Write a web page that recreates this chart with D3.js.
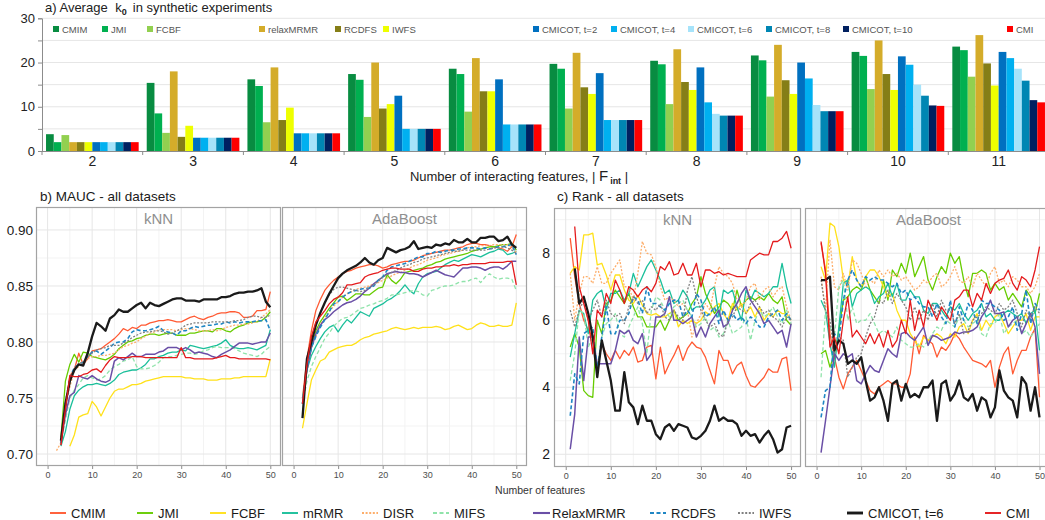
<!DOCTYPE html>
<html>
<head>
<meta charset="utf-8">
<script src="https://cdn.jsdelivr.net/npm/d3@7/dist/d3.min.js"></script>
<style>
  body { margin: 0; background: #fff; }
  svg text { font-family: "Liberation Sans", Arial, sans-serif; }
</style>
</head>
<body>
<svg id="chart" width="1045" height="520"></svg>
<script>
// ---------- a) bar chart data ----------
const interactCounts = ["2","3","4","5","6","7","8","9","10","11"];
const barNames = ["CMIM","JMI","FCBF","relaxMRMR","RCDFS","IWFS","CMICOT, t=2","CMICOT, t=4","CMICOT, t=6","CMICOT, t=8","CMICOT, t=10","CMI"];
const barCMIM   = [3.8,15.4,16.2,17.4,18.6,19.7,20.4,21.6,22.4,23.6];
const barJMI    = [2,8.5,14.7,16.1,17.4,18.6,19.6,20.5,21.5,22.8];
const barFCBF   = [3.6,4.1,6.5,7.7,8.9,9.6,10.6,12.3,14,16.8];
const barRelax  = [2,18,18.9,20,21,22.2,23,24,25,26.2];
const barRCDFS  = [2,3.2,7,9.6,13.5,14.4,15.6,16,17.4,19.8];
const barIWFS   = [2,5.7,9.8,10.6,13.5,12.9,13.8,12.9,13.8,14.8];
const barCot2   = [2,3,4,12.5,16.2,17.6,18.9,20,21.4,22.4];
const barCot4   = [2,3,4,5,6,7,11,16.4,19.5,21];
const barCot6   = [2,3,4,5,6,7,8.4,10.4,15,18.6];
const barCot8   = [2,3,4,5,6,7,8,9,12.5,15.9];
const barCot10  = [2,3,4,5,6,7,8,9,10.3,11.5];
const barCMI    = [2,3,4,5,6,7,8,9,10.2,11];
const barTicks  = [0,10,20,30];

// ---------- b), c) line chart data (index 0 = 1 feature ... index 49 = 50 features) ----------
const methods = ["CMIM","JMI","FCBF","mRMR","DISR","MIFS","RelaxMRMR","RCDFS","IWFS","CMICOT, t=6","CMI"];
const aucTicks = [0.70,0.75,0.80,0.85,0.90];
const rankTicks = [2,4,6,8];
const featTicks = [0,10,20,30,40,50];

const aucKnn = [
  // CMIM
  [null,null,.710,.740,.770,.775,.790,.780,.785,.792, .793,.794,.797,.800,.803,.807,.812,.810,.813,.812,
   .815,.815,.817,.818,.819,.819,.820,.819,.818,.818, .820,.822,.823,.821,.820,.822,.823,.825,.826,.826,
   .827,.827,.826,.822,.822,.823,.828,.828,.829,.845],
  // JMI
  [null,null,.715,.765,.780,.789,.782,.791,.790,.787, .786,.785,.784,.786,.789,.794,.797,.800,.801,.803,
   .804,.806,.807,.807,.806,.807,.808,.808,.806,.806, .806,.808,.808,.809,.810,.810,.809,.812,.812,.810,
   .809,.812,.814,.815,.817,.818,.818,.819,.822,.827],
  // FCBF
  [null,null,null,null,.707,.717,.733,.735,.736,.747, .742,.734,.742,.750,.756,.758,.758,.760,.762,.762,
   .763,.765,.766,.767,.768,.769,.769,.769,.769,.769, .768,.768,.767,.767,.767,.766,.766,.766,.767,.767,
   .767,.768,.768,.769,.769,.769,.769,.769,.769,.785],
  // mRMR
  [null,null,.707,.720,.740,.752,.757,.760,.762,.762, .763,.762,.761,.763,.766,.771,.773,.774,.775,.775,
   .777,.780,.785,.785,.787,.788,.790,.791,.791,.793, .792,.797,.796,.795,.794,.795,.796,.797,.799,.802,
   .797,.795,.794,.794,.795,.794,.793,.795,.797,.811],
  // DISR
  [null,.703,.710,.745,.760,.775,.778,.782,.785,.787, .787,.788,.788,.789,.790,.793,.796,.797,.799,.800,
   .803,.805,.808,.809,.811,.811,.811,.811,.810,.811, .812,.812,.811,.810,.810,.810,.811,.810,.811,.813,
   .814,.815,.815,.816,.816,.817,.818,.822,.825,.829],
  // MIFS
  [null,null,.710,.730,.750,.757,.762,.768,.770,.768, .766,.767,.770,.775,.778,.780,.783,.784,.787,.778,
   .776,.776,.777,.779,.782,.786,.787,.787,.788,.789, .790,.790,.789,.790,.792,.793,.795,.796,.795,.795,
   .795,.794,.792,.790,.789,.788,.787,.789,.793,.796],
  // RelaxMRMR
  [null,null,.710,.735,.752,.755,.770,.768,.767,.770, .767,.765,.764,.766,.783,.786,.784,.787,.790,.787,
   .787,.789,.789,.789,.791,.792,.795,.795,.795,.793, .795,.793,.790,.791,.790,.789,.787,.786,.789,.791,
   .793,.796,.799,.799,.799,.798,.799,.800,.800,.808],
  // RCDFS
  [null,null,.710,.745,.768,.777,.780,.782,.787,.791, .792,.789,.792,.795,.799,.800,.800,.803,.809,.811,
   .810,.810,.811,.812,.814,.810,.809,.808,.806,.810, .810,.812,.814,.813,.814,.815,.815,.816,.816,.818,
   .817,.818,.817,.818,.818,.818,.819,.819,.820,.810],
  // IWFS
  [null,null,.708,.740,.765,.777,.781,.782,.787,.790, .793,.794,.795,.797,.797,.797,.799,.801,.804,.806,
   .808,.809,.809,.810,.810,.809,.807,.808,.810,.812, .815,.816,.817,.817,.817,.817,.818,.818,.818,.818,
   .818,.819,.819,.820,.822,.823,.823,.822,.822,.824],
  // CMICOT, t=6
  [null,null,.712,.745,.765,.775,.780,.779,.790,.805, .817,.814,.810,.821,.824,.829,.827,.827,.830,.833,
   .835,.830,.835,.833,.832,.834,.836,.838,.839,.839, .837,.837,.837,.836,.838,.838,.838,.838,.840,.840,
   .841,.843,.844,.844,.845,.845,.846,.848,.836,.831],
  // CMI
  [null,null,.708,.740,.770,.769,.769,.771,.772,.775, .776,.773,.779,.784,.787,.786,.786,.786,.787,.787,
   .787,.786,.786,.786,.786,.786,.786,.786,.786,.795, .786,.786,.785,.785,.785,.785,.785,.786,.787,.788,
   .786,.786,.785,.785,.785,.785,.785,.785,.785,.784]
];

const aucAda = [
  // CMIM
  [null,.750,.785,.810,.828,.838,.846,.851,.855,.858, .861,.863,.864,.866,.867,.868,.869,.869,.868,.866,
   .867,.869,.870,.871,.872,.872,.873,.875,.877,.878, .879,.880,.881,.882,.882,.883,.884,.885,.887,.888,
   .888,.887,.887,.886,.885,.884,.883,.881,.885,.896],
  // JMI
  [null,.745,.775,.795,.810,.818,.824,.830,.835,.840, .841,.837,.840,.843,.843,.842,.842,.845,.848,.849,
   .860,.855,.852,.856,.862,.863,.864,.865,.866,.868, .869,.871,.872,.874,.875,.876,.877,.878,.879,.881,
   .882,.883,.884,.885,.885,.886,.887,.887,.888,.882],
  // FCBF
  [null,.723,.745,.766,.775,.783,.785,.791,.793,.795, .796,.797,.797,.799,.802,.804,.805,.807,.808,.809,
   .810,.812,.813,.812,.811,.812,.813,.812,.813,.813, .813,.814,.813,.811,.812,.814,.815,.813,.811,.812,
   .815,.817,.816,.814,.814,.815,.814,.814,.815,.835],
  // mRMR
  [null,.750,.775,.788,.796,.803,.809,.813,.815,.809, .815,.820,.817,.822,.827,.825,.823,.830,.832,.834,
   .837,.839,.842,.846,.851,.846,.843,.852,.858,.861, .862,.863,.866,.869,.871,.873,.872,.874,.876,.878,
   .877,.876,.878,.880,.881,.883,.882,.878,.879,.881],
  // DISR
  [null,.745,.775,.795,.805,.815,.822,.827,.832,.836, .840,.843,.845,.847,.848,.849,.850,.852,.853,.855,
   .857,.859,.861,.862,.864,.866,.868,.869,.871,.873, .874,.875,.877,.878,.879,.880,.881,.882,.884,.885,
   .885,.886,.886,.886,.887,.887,.887,.887,.884,.880],
  // MIFS
  [null,.745,.765,.778,.787,.795,.803,.808,.814,.818, .821,.822,.824,.827,.830,.831,.833,.834,.836,.837,
   .839,.842,.842,.843,.844,.845,.846,.845,.842,.841, .846,.847,.849,.850,.850,.851,.853,.854,.854,.856,
   .857,.853,.858,.861,.858,.856,.857,.857,.856,.846],
  // RelaxMRMR
  [null,.745,.775,.795,.807,.815,.820,.823,.827,.830, .833,.835,.836,.838,.841,.845,.848,.852,.855,.858,
   .861,.862,.863,.862,.862,.861,.861,.860,.858,.860, .862,.864,.862,.860,.859,.858,.862,.866,.866,.867,
   .867,.866,.864,.866,.867,.867,.865,.868,.872,.872],
  // RCDFS
  [null,.745,.777,.795,.805,.813,.820,.827,.834,.836, .840,.843,.845,.846,.847,.848,.848,.850,.855,.858,
   .864,.867,.868,.869,.870,.872,.874,.876,.876,.879, .879,.881,.880,.881,.882,.882,.883,.883,.884,.884,
   .884,.883,.884,.883,.884,.885,.885,.886,.887,.878],
  // IWFS
  [null,.745,.780,.800,.815,.826,.835,.842,.847,.849, .849,.848,.847,.846,.845,.846,.849,.851,.854,.858,
   .860,.862,.864,.866,.868,.869,.871,.872,.874,.875, .876,.877,.878,.879,.880,.881,.881,.882,.882,.882,
   .882,.882,.882,.883,.884,.884,.885,.884,.882,.879],
  // CMICOT, t=6
  [null,.732,.785,.800,.815,.826,.835,.843,.850,.857, .861,.864,.866,.868,.871,.875,.871,.869,.873,.875,
   .884,.882,.880,.882,.883,.885,.890,.883,.884,.885, .884,.887,.886,.888,.887,.891,.889,.889,.892,.889,
   .889,.893,.893,.894,.894,.890,.891,.894,.887,.884],
  // CMI
  [null,.745,.780,.805,.818,.823,.828,.834,.838,.840, .844,.851,.851,.852,.853,.858,.860,.861,.862,.864,
   .865,.866,.866,.865,.865,.865,.863,.863,.865,.866, .866,.867,.867,.868,.868,.869,.868,.869,.869,.870,
   .870,.870,.870,.871,.871,.871,.871,.872,.872,.851]
];

const rankKnn = [
  // CMIM
  [8.45,7.3,6.5,6.0,5.7,5.5,4.5,5.3,5.0,4.8, 5.1,4.85,5.1,4.95,5.2,4.75,4.8,5.2,5.25,4.25,
   5.2,4.4,4.7,4.95,5.25,4.8,5.15,5.35,5.2,5.15, 4.9,4.5,4.1,5.1,4.8,4.8,4.4,4.65,4.75,4.35,
   4.05,4.0,4.15,4.3,4.55,4.45,4.45,4.85,4.9,3.9],
  // JMI
  [5.2,5.6,5.2,3.9,3.75,3.7,6.0,5.6,6.5,6.6, 6.9,6.7,6.5,6.8,6.4,6.1,6.1,5.8,5.8,5.8,
   6.0,5.7,6.0,6.3,6.0,6.1,6.2,6.5,6.7,7.3, 6.8,6.5,6.2,6.4,6.6,6.5,6.3,6.9,6.4,6.6,
   6.7,6.6,6.7,6.6,6.8,6.6,6.5,6.7,6.0,5.85],
  // FCBF
  [7.4,7.6,7.5,8.55,8.55,8.6,7.65,7.7,7.35,6.9, 7.35,7.35,6.9,6.6,6.5,6.75,6.45,6.2,6.15,6.2,
   6.1,6.1,6.2,6.3,5.8,6.0,5.9,6.0,5.9,6.0, 6.25,6.15,6.4,6.5,6.2,6.0,6.5,6.3,6.5,6.2,
   6.4,6.1,6.4,6.0,6.2,6.1,6.3,6.2,6.2,6.0],
  // mRMR
  [4.9,5.6,6.3,6.2,5.6,6.6,6.8,6.9,6.3,6.8, 6.8,6.9,6.6,6.8,7.4,7.0,7.3,7.6,7.8,7.5,
   7.2,6.8,6.9,6.5,6.6,6.9,6.7,6.3,6.4,6.4, 6.6,6.9,7.0,6.1,6.9,6.8,6.9,6.4,6.0,6.9,
   6.6,6.9,6.8,6.7,6.8,7.0,7.0,7.7,7.0,6.5],
  // DISR
  [7.4,6.0,6.8,7.3,7.3,7.1,7.6,7.1,7.1,7.4, 7.6,7.8,7.0,7.0,6.6,7.4,8.35,8.0,7.95,7.6,
   7.0,6.6,6.7,6.6,6.4,6.5,6.3,5.5,5.9,6.2, 6.5,6.3,7.0,7.6,7.4,7.3,7.1,6.6,6.4,6.6,
   7.0,7.1,6.6,6.9,7.0,6.7,6.9,7.0,6.4,6.0],
  // MIFS
  [4.2,5.0,6.3,6.2,5.2,5.5,4.5,5.5,5.9,6.0, 6.2,5.6,5.5,5.8,6.1,6.4,5.9,5.0,6.3,6.7,
   6.6,6.3,6.1,6.4,6.5,6.6,6.3,6.1,5.8,5.9, 6.1,5.7,5.8,5.5,5.6,6.0,5.6,5.7,5.8,6.1,
   5.4,6.0,6.3,6.1,6.2,6.4,6.1,5.9,6.3,5.9],
  // RelaxMRMR
  [2.15,3.2,5.5,4.2,5.5,5.5,4.7,4.7,4.7,4.7, 5.1,5.7,5.6,5.7,5.4,5.3,5.6,4.8,5.0,6.1,
   6.1,6.2,6.7,6.0,6.0,5.9,6.0,6.1,5.5,5.8, 5.5,5.9,6.1,6.3,5.8,5.9,6.3,6.5,6.8,7.0,
   6.6,6.4,6.2,5.9,6.0,5.8,5.6,5.7,5.2,5.9],
  // RCDFS
  [3.15,4.4,4.1,5.6,5.7,5.8,4.5,5.5,6.4,5.6, 5.6,6.0,6.0,6.2,6.7,6.6,6.2,7.0,6.5,6.5,
   6.4,6.3,6.5,6.6,6.6,6.1,6.3,6.1,6.8,6.6, 6.1,6.2,6.4,5.9,6.3,6.0,6.2,6.0,6.1,5.9,
   6.1,6.0,5.8,5.8,6.1,6.2,6.3,6.0,6.2,6.0],
  // IWFS
  [6.3,5.8,6.3,6.6,6.0,6.3,6.6,6.1,6.6,6.2, 6.1,6.2,5.9,6.4,6.7,6.5,6.6,6.2,6.4,6.3,
   6.5,6.1,6.0,6.3,6.1,6.0,6.9,7.3,6.7,6.3, 6.0,5.8,5.9,5.6,5.5,6.0,6.1,6.4,6.3,6.2,
   6.5,6.6,6.4,6.2,6.3,6.1,6.0,5.8,6.1,6.0],
  // CMICOT, t=6
  [null,7.55,6.5,6.7,6.2,5.5,4.3,5.4,4.8,4.2, 3.3,3.3,4.45,3.55,3.4,2.9,3.45,3.0,3.0,2.6,
   2.45,2.8,2.9,2.7,2.9,2.85,2.8,2.5,2.45,2.55, 2.7,3.0,3.45,3.0,3.1,3.0,3.0,2.9,2.55,2.7,
   2.55,2.6,2.35,2.55,2.7,2.45,2.05,2.15,2.8,2.85],
  // CMI
  [null,8.8,7.0,6.5,6.0,5.0,6.3,6.1,6.8,6.5, 7.2,6.9,6.5,7.0,6.9,6.7,6.9,7.0,6.85,7.1,
   7.6,7.5,7.75,7.35,7.4,7.7,7.35,7.35,7.7,7.0, 7.5,7.5,7.4,7.45,7.35,7.4,7.35,7.3,7.3,7.3,
   7.8,7.9,8.0,7.95,7.95,8.35,8.35,8.45,8.65,8.15]
];

const rankAda = [
  // CMIM
  [8.3,7.5,5.6,4.9,4.3,3.95,4.4,4.6,4.8,4.5, 4.2,3.9,3.8,4.0,4.1,4.2,4.1,4.1,4.0,4.0,
   4.4,5.5,5.0,5.55,5.4,5.3,4.9,5.2,5.1,5.3, 5.6,5.45,5.2,5.0,4.8,4.75,4.7,4.6,4.8,4.0,
   4.6,5.0,5.2,4.4,4.8,5.1,5.1,5.5,5.75,3.7],
  // JMI
  [5.0,5.1,4.6,5.0,5.7,6.6,6.7,6.9,7.0,6.9, 7.3,6.9,6.7,6.5,7.2,6.6,7.5,7.3,7.7,7.4,
   8.0,7.3,7.6,7.9,7.2,6.9,7.3,7.6,7.4,8.0, 7.7,7.9,7.2,6.7,7.4,7.4,7.5,7.4,6.9,7.1,
   6.9,7.0,6.6,6.8,6.6,6.4,6.9,6.7,6.2,6.8],
  // FCBF
  [7.6,7.2,8.9,8.8,8.2,7.2,7.0,7.9,7.2,7.0, 7.3,7.5,7.5,7.3,7.0,6.7,6.8,6.3,6.0,6.0,
   5.6,5.4,5.2,5.5,5.4,5.5,5.6,5.5,5.3,5.6, 5.5,5.8,5.9,5.6,6.0,6.2,5.7,6.0,5.8,6.1,
   6.2,5.9,5.6,5.8,6.0,6.0,6.2,5.7,6.1,6.1],
  // mRMR
  [6.6,6.3,5.3,4.6,5.8,7.1,7.2,6.4,6.8,6.9, 7.0,6.9,6.5,6.7,6.8,7.1,6.7,7.1,6.6,6.6,
   6.9,6.7,6.7,6.3,6.2,6.5,6.5,6.3,6.1,6.4, 6.3,6.5,6.2,6.0,6.2,6.3,6.5,6.1,6.2,6.0,
   6.0,6.2,6.3,6.2,6.1,6.2,5.9,6.2,6.3,5.1],
  // DISR
  [7.3,6.3,8.4,7.0,6.9,7.4,6.9,7.8,7.7,7.4, 7.0,7.2,7.1,7.5,7.3,7.5,7.3,7.4,7.2,7.3,
   7.1,6.9,7.0,7.2,7.1,7.3,7.4,7.0,7.1,7.3, 7.6,7.2,7.1,7.3,7.0,7.4,7.2,7.0,7.4,7.6,
   7.1,7.2,7.0,7.3,7.2,7.0,7.0,6.8,7.0,7.4],
  // MIFS
  [4.3,6.3,5.8,5.5,7.0,7.2,6.0,6.4,5.9,6.0, 6.0,6.2,5.9,5.6,5.7,5.6,5.5,5.8,5.4,5.3,
   5.2,5.2,5.3,5.2,5.4,5.6,5.8,5.7,6.0,5.9, 5.8,6.1,6.0,5.8,5.9,6.0,5.6,5.5,5.9,5.9,
   6.2,5.6,5.8,5.9,6.0,5.6,5.7,5.5,5.7,5.9],
  // RelaxMRMR
  [2.05,3.0,4.0,5.0,4.8,5.0,4.9,5.0,4.2,4.1, 4.4,4.65,4.5,4.45,4.8,5.15,5.0,4.9,5.6,5.65,
   5.5,5.4,5.6,5.8,5.25,5.55,5.5,5.4,5.45,5.5, 5.65,5.6,5.65,5.65,5.7,5.8,6.1,6.3,6.6,6.2,
   6.2,6.25,5.8,6.0,6.1,5.6,5.9,6.2,5.8,4.4],
  // RCDFS
  [3.1,3.9,4.0,5.6,5.4,6.6,7.2,7.5,7.2,7.0, 7.3,7.2,7.3,7.2,7.2,7.1,7.0,7.1,6.8,6.9,
   6.6,6.7,6.5,6.4,6.4,6.1,6.5,6.1,5.9,6.6, 5.8,6.4,6.0,6.5,6.3,5.9,6.6,6.5,6.5,6.4,
   6.3,6.0,6.1,6.4,5.7,6.2,6.9,5.9,6.5,6.3],
  // IWFS
  [7.2,6.3,6.0,5.0,5.5,5.4,4.3,4.6,4.9,5.0, 5.5,5.9,6.1,6.6,6.5,6.9,6.5,6.8,6.6,6.4,
   6.0,6.4,6.0,6.3,6.0,6.5,6.1,6.6,6.3,6.3, 5.9,6.2,5.6,5.7,6.0,6.1,6.2,6.4,6.3,6.2,
   6.5,6.3,6.4,6.6,6.2,5.8,6.3,6.1,6.4,6.2],
  // CMICOT, t=6
  [7.2,7.2,7.3,5.1,5.4,5.3,4.7,4.8,4.7,4.9, 4.2,3.6,3.7,4.0,3.6,3.0,4.1,4.2,3.6,4.1,
   3.7,3.8,3.7,4.0,4.0,4.2,3.0,4.1,4.2,3.6, 3.8,4.2,3.7,3.6,3.8,3.3,3.7,3.6,3.1,3.4,
   4.5,3.9,3.7,3.6,3.1,4.3,4.1,3.3,4.0,3.1],
  // CMI
  [8.35,7.4,5.2,5.5,5.0,6.0,6.7,5.5,5.7,5.5, 5.3,5.6,5.3,5.6,5.2,5.7,5.2,5.4,6.0,5.6,
   6.6,5.7,6.3,5.8,6.6,6.3,6.0,6.4,6.2,6.0, 6.6,6.7,6.9,6.9,6.4,6.8,6.6,7.1,6.8,7.1,
   7.2,7.25,7.5,7.1,6.9,7.3,7.2,7.0,7.5,8.2]
];

// ---------- styles ----------
const barColors = ["#088c41","#00b050","#92d050","#d4ac2a","#857e17","#eeff00",
                   "#0070c0","#00b0f0","#a6e3fa","#0086b3","#002060","#ff0000"];
const lineColors = ["#ff5a33","#66cc00","#ffe11a","#1abf9a","#fdae6b","#8fe3aa",
                    "#6a4fa6","#1f86c4","#808080","#1a1a1a","#e41a1c"];
const lineDash  = [null,null,null,null,"2,1.6","4,2.5",null,"4,2.5","2,1.6",null,null];
const lineWidth = [1.3,1.3,1.3,1.3,1.3,1.3,1.5,1.6,1.3,2.3,1.3];

const svg = d3.select("#chart");

// ================= a) bars =================
const yBar = d3.scaleLinear().domain([0,30]).range([151,18.3]);
const xGroup = d3.scaleBand().domain(interactCounts).range([42,1049]).paddingInner(0.08).paddingOuter(0.04);
const xInner = d3.scaleBand().domain(d3.range(barNames.length)).range([0, xGroup.bandwidth()]);
const barSeries = [barCMIM,barJMI,barFCBF,barRelax,barRCDFS,barIWFS,barCot2,barCot4,barCot6,barCot8,barCot10,barCMI];

const gA = svg.append("g");
gA.append("g").selectAll("line").data([5,10,15,20,25,30]).join("line")
  .attr("x1",42).attr("x2",1045).attr("y1",d=>yBar(d)).attr("y2",d=>yBar(d))
  .attr("stroke","#e6e6e6").attr("stroke-width",1);

barSeries.forEach((vals,si) => {
  gA.append("g").selectAll("rect").data(vals).join("rect")
    .attr("x",(d,gi)=>xGroup(interactCounts[gi]) + xInner(si))
    .attr("y",d=>yBar(d))
    .attr("width",xInner.bandwidth())
    .attr("height",d=>yBar(0)-yBar(d))
    .attr("fill",barColors[si]);
});

const yAxisA = gA.append("g").attr("transform","translate(42,0)")
  .call(d3.axisLeft(yBar).tickValues([0,5,10,15,20,25,30]).tickSize(4)
        .tickFormat(d => barTicks.includes(d) ? d : ""));
yAxisA.select(".domain").attr("stroke","#8c8c8c");
yAxisA.selectAll(".tick line").attr("stroke","#8c8c8c");
yAxisA.selectAll("text").attr("font-size",13).attr("fill","#222").attr("x",-7);

const xAxisA = gA.append("g").attr("transform","translate(0,151)")
  .call(d3.axisBottom(xGroup).tickSize(0).tickPadding(5));
xAxisA.select(".domain").attr("stroke","#8c8c8c").attr("d","M42,0.5H1045");
xAxisA.selectAll("text").attr("font-size",14).attr("fill","#222");
gA.append("g").selectAll("line").data(d3.range(interactCounts.length+1)).join("line")
  .attr("x1",i=>42+i*xGroup.step()).attr("x2",i=>42+i*xGroup.step())
  .attr("y1",151).attr("y2",155).attr("stroke","#8c8c8c");

// legend of bars
const barLegX = [53,102,147,259,335,383,533,611,688,766,843,1007];
const legA = gA.append("g").selectAll("g").data(barNames).join("g")
  .attr("transform",(d,i)=>`translate(${barLegX[i]},29)`);
legA.append("rect").attr("x",0).attr("y",-3).attr("width",6).attr("height",6)
  .attr("fill",(d,i)=>barColors[i]);
legA.append("text").attr("x",9).attr("y",3.5).attr("font-size",9.5).attr("fill","#555").text(d=>d);

// titles
const tA = gA.append("text").attr("x",45).attr("y",12).attr("font-size",13).attr("fill","#222");
tA.append("tspan").text("a) Average ");
tA.append("tspan").attr("dx",4).text("k");
tA.append("tspan").attr("font-size",9).attr("font-weight","bold").attr("dy",3).text("0");
tA.append("tspan").attr("dy",-3).attr("dx",6).text("in synthetic experiments");

const xtA = gA.append("text").attr("x",519).attr("y",181).attr("text-anchor","middle")
  .attr("font-size",13).attr("fill","#222");
xtA.append("tspan").text("Number of interacting features, | ");
xtA.append("tspan").attr("font-size",15).text("F");
xtA.append("tspan").attr("font-size",9).attr("font-weight","bold").attr("dy",3).attr("dx",2).text("int");
xtA.append("tspan").attr("dy",-3).text(" |");

// ================= b), c) line panels =================
const featX = d3.range(1,51);

function drawPanel(x0, w, y, strip, data, tickLabels, xMax) {
  const y0 = y.range()[1], y1 = y.range()[0];
  const x = d3.scaleLinear().domain([-2.6, xMax]).range([x0, x0+w]);
  const g = svg.append("g");
  g.append("rect").attr("x",x0).attr("y",y0).attr("width",w).attr("height",y1-y0).attr("fill","#fff");
  // minor + major grid
  const step = tickLabels[1]-tickLabels[0];
  const yMinor = tickLabels.map(t=>t+step/2).concat([tickLabels[0]-step/2])
    .filter(v=>v>y.domain()[0]&&v<y.domain()[1]);
  g.append("g").selectAll("line").data(yMinor).join("line")
    .attr("x1",x0).attr("x2",x0+w).attr("y1",d=>y(d)).attr("y2",d=>y(d)).attr("stroke","#f3f3f3");
  g.append("g").selectAll("line").data([5,15,25,35,45]).join("line")
    .attr("y1",y0).attr("y2",y1).attr("x1",d=>x(d)).attr("x2",d=>x(d)).attr("stroke","#f3f3f3");
  g.append("g").selectAll("line").data(tickLabels).join("line")
    .attr("x1",x0).attr("x2",x0+w).attr("y1",d=>y(d)).attr("y2",d=>y(d)).attr("stroke","#e6e6e6");
  g.append("g").selectAll("line").data(featTicks).join("line")
    .attr("y1",y0).attr("y2",y1).attr("x1",d=>x(d)).attr("x2",d=>x(d)).attr("stroke","#e6e6e6");

  g.append("text").attr("x",x0+w/2).attr("y",y0+17).attr("text-anchor","middle")
    .attr("font-size",15).attr("fill","#8f8f8f").text(strip);

  const line = d3.line().defined(d=>d[1]!=null).x(d=>x(d[0])).y(d=>y(d[1]));
  data.forEach((vals,mi) => {
    g.append("path").datum(featX.map((f,i)=>[f,vals[i]]))
      .attr("d",line).attr("fill","none")
      .attr("stroke",lineColors[mi]).attr("stroke-width",lineWidth[mi])
      .attr("stroke-dasharray",lineDash[mi]).attr("stroke-linejoin","round");
  });

  g.append("rect").attr("x",x0+0.5).attr("y",y0+0.5).attr("width",w-1).attr("height",y1-y0-1)
    .attr("fill","none").attr("stroke","#a3a3a3").attr("stroke-width",1.2);

  const ax = g.append("g").attr("transform",`translate(0,${y1})`)
    .call(d3.axisBottom(x).tickValues(featTicks).tickSize(3).tickPadding(3));
  ax.select(".domain").remove();
  ax.selectAll(".tick line").attr("stroke","#8c8c8c");
  ax.selectAll("text").attr("font-size",9).attr("fill","#4d4d4d");
  return x;
}

const yAuc = d3.scaleLinear().domain([0.6893,0.9205]).range([466,207]);
const yRank = d3.scaleLinear().domain([1.62,9.35]).range([467,208]);

drawPanel(36, 245, yAuc, "kNN", aucKnn, aucTicks, 52.4);
drawPanel(282, 245, yAuc, "AdaBoost", aucAda, aucTicks, 52.4);
drawPanel(554, 247, yRank, "kNN", rankKnn, rankTicks, 52.2);
drawPanel(805, 247, yRank, "AdaBoost", rankAda, rankTicks, 52.8);

svg.append("g").selectAll("text").data(aucTicks).join("text")
  .attr("x",33).attr("y",d=>yAuc(d)+5).attr("text-anchor","end")
  .attr("font-size",13.5).attr("fill","#1a1a1a").text(d=>d3.format(".2f")(d));
svg.append("g").selectAll("text").data(rankTicks).join("text")
  .attr("x",550).attr("y",d=>yRank(d)+5).attr("text-anchor","end")
  .attr("font-size",14).attr("fill","#1a1a1a").text(d=>d);

svg.append("text").attr("x",40).attr("y",201).attr("font-size",13.5).attr("fill","#1a1a1a").text("b) MAUC - all datasets");
svg.append("text").attr("x",557).attr("y",201).attr("font-size",13.5).attr("fill","#1a1a1a").text("c) Rank - all datasets");
svg.append("text").attr("x",540).attr("y",494).attr("text-anchor","middle").attr("font-size",10.5)
  .attr("fill","#333").text("Number of features");

// bottom legend
const legX = [50,137,210,282,362,433,533,650,738,847,985];
const legB = svg.append("g").selectAll("g").data(methods).join("g")
  .attr("transform",(d,i)=>`translate(${legX[i]},513)`);
legB.append("line").attr("x1",0).attr("x2",(d,i)=>i===6?17:16).attr("y1",0).attr("y2",0)
  .attr("stroke",(d,i)=>lineColors[i]).attr("stroke-width",(d,i)=>lineWidth[i]+0.6)
  .attr("stroke-dasharray",(d,i)=>lineDash[i]);
legB.append("text").attr("x",(d,i)=>i===6?19:21).attr("y",5).attr("font-size",13)
  .attr("fill","#1a1a1a").text(d=>d);
</script>
</body>
</html>
